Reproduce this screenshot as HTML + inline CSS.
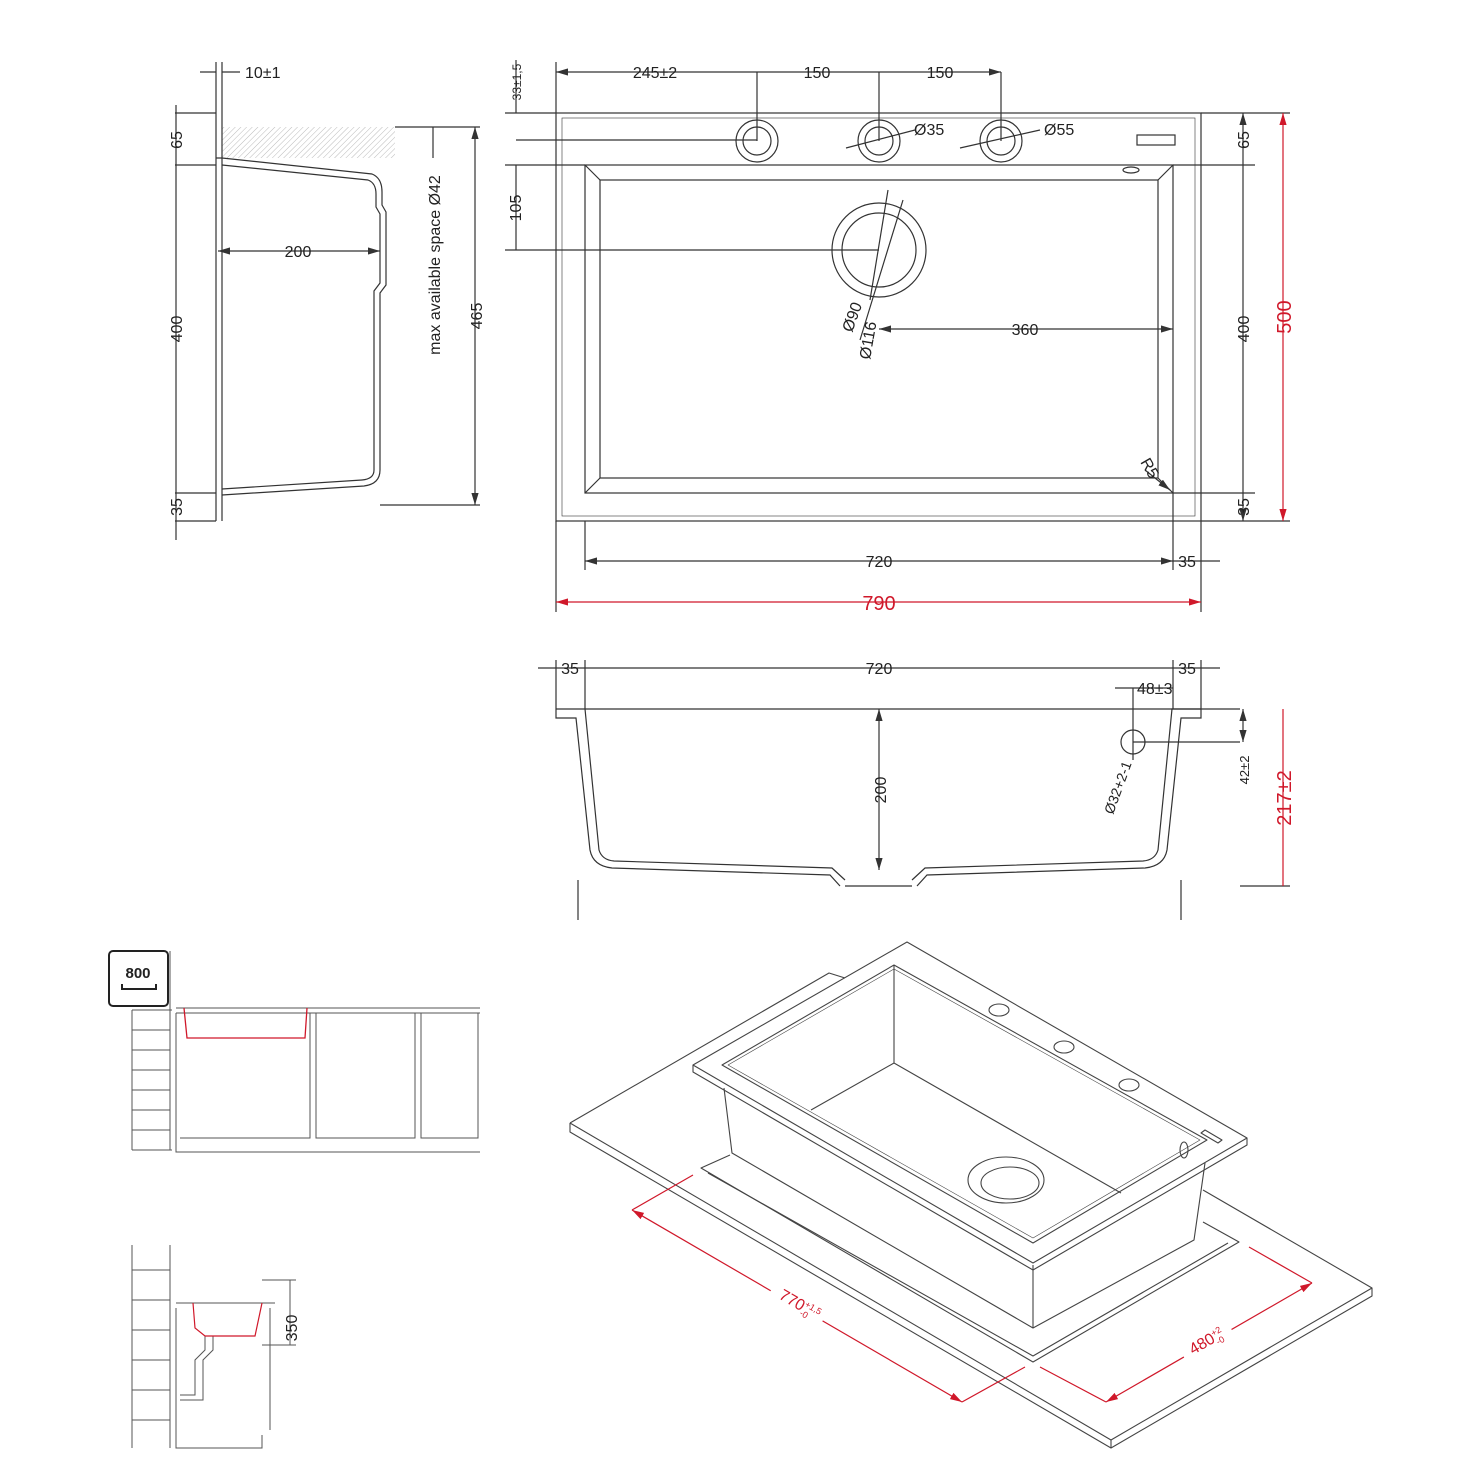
<!DOCTYPE html>
<html><head><meta charset="utf-8"><style>
html,body{margin:0;padding:0;background:#fff}
svg{display:block}
text{font-family:"Liberation Sans",sans-serif;font-size:16px;fill:#222}
.r{fill:#d0182a}
</style></head><body>
<svg width="1484" height="1484" viewBox="0 0 1484 1484" xmlns="http://www.w3.org/2000/svg">
<defs>
<pattern id="h" width="4" height="4" patternUnits="userSpaceOnUse" patternTransform="rotate(45)"><line x1="0" y1="0" x2="0" y2="4" stroke="#bbb" stroke-width="1"/></pattern>
<marker id="a" markerWidth="10" markerHeight="6" refX="10" refY="3" orient="auto-start-reverse"><path d="M0,0 L10,3 L0,6z" fill="#333"/></marker>
<marker id="ar" markerWidth="10" markerHeight="6" refX="10" refY="3" orient="auto-start-reverse"><path d="M0,0 L10,3 L0,6z" fill="#d0182a"/></marker>
</defs>
<g fill="none" stroke="#333" stroke-width="1.2">
<!-- TOP VIEW -->
<rect x="556" y="113" width="645" height="408"/>
<rect x="562" y="118" width="633" height="398" stroke-width="0.6"/>
<rect x="585" y="165" width="588" height="328"/>
<rect x="600" y="180" width="558" height="298"/>
<path d="M585,165 L600,180 M1173,165 L1158,180 M585,493 L600,478 M1173,493 L1158,478"/>
<circle cx="879" cy="250" r="47"/><circle cx="879" cy="250" r="37"/>
<circle cx="757" cy="141" r="21"/><circle cx="757" cy="141" r="14"/>
<circle cx="879" cy="141" r="21"/><circle cx="879" cy="141" r="14"/>
<circle cx="1001" cy="141" r="21"/><circle cx="1001" cy="141" r="14"/>
<rect x="1137" y="135" width="38" height="10"/>
<ellipse cx="1131" cy="170" rx="8" ry="3"/>
<path d="M556,72 H1001" marker-start="url(#a)" marker-end="url(#a)"/>
<path d="M757,72 V141 M879,72 V141 M1001,72 V141 M556,62 V113"/>
<path d="M516,72 V113 M505,113 H556 M505,165 H585 M516,165 V250 M505,250 H879 M516,72 V60" />
<path d="M516,140 H757"/>
<path d="M1201,113 H1290 M1173,165 H1255 M1173,493 H1255 M1201,521 H1290"/>
<path d="M1243,113 V521" marker-start="url(#a)" marker-end="url(#a)"/>
<path d="M585,521 V570 M1173,493 V570 M1201,521 V612 M556,521 V612"/>
<path d="M585,561 H1173" marker-start="url(#a)" marker-end="url(#a)"/>
<path d="M1173,561 H1220"/>
<path d="M879,329 H1173" marker-start="url(#a)" marker-end="url(#a)"/>
<path d="M903,200 L860,340 M888,190 L870,300"/>
<path d="M846,148 L915,130 M960,148 L1040,130"/>
<path d="M1145,470 L1170,490" marker-end="url(#a)"/>
</g>
<g fill="none" stroke="#d0182a" stroke-width="1.2">
<path d="M1283,113 V521" marker-start="url(#ar)" marker-end="url(#ar)"/>
<path d="M556,602 H1201" marker-start="url(#ar)" marker-end="url(#ar)"/>
</g>
<text x="655" y="78" text-anchor="middle">245±2</text>
<text x="817" y="78" text-anchor="middle">150</text>
<text x="940" y="78" text-anchor="middle">150</text>
<text transform="translate(521,82) rotate(-90)" text-anchor="middle" style="font-size:12px">33±1,5</text>
<text transform="translate(521,208) rotate(-90)" text-anchor="middle">105</text>
<text transform="translate(1249,140) rotate(-90)" text-anchor="middle">65</text>
<text transform="translate(1249,329) rotate(-90)" text-anchor="middle">400</text>
<text transform="translate(1249,507) rotate(-90)" text-anchor="middle">35</text>
<text class="r" transform="translate(1291,317) rotate(-90)" text-anchor="middle" style="font-size:20px">500</text>
<text x="879" y="567" text-anchor="middle">720</text>
<text x="1187" y="567" text-anchor="middle">35</text>
<text class="r" x="879" y="610" text-anchor="middle" style="font-size:20px">790</text>
<text x="1025" y="335" text-anchor="middle">360</text>
<text x="914" y="135">Ø35</text>
<text x="1044" y="135">Ø55</text>
<text transform="translate(852,333) rotate(-70)">Ø90</text>
<text transform="translate(870,360) rotate(-80)">Ø116</text>
<text transform="translate(1140,462) rotate(60)">R5</text>

<!-- LEFT SECTION -->
<rect x="222" y="127" width="173" height="31" fill="url(#h)" stroke="none"/>
<g fill="none" stroke="#333" stroke-width="1.2">
<path d="M216,113 V521 M222,113 V521"/>
<path d="M216,158 H222 L372,174 Q382,178 382,192 V205 L386,212 V285 L380,293 V470 Q380,484 364,486 L222,495"/>
<path d="M222,165 L368,180 Q376,183 376,194 V207 L380,214 V283 L374,291 V470 Q374,479 362,480 L222,489"/>
<path d="M200,72 H216 M222,72 H240 M216,62 V113 M222,62 V113"/>
<path d="M175,113 H216 M175,165 H216 M175,493 H216 M175,521 H216"/>
<path d="M176,105 V540"/>
<path d="M218,251 H380" marker-start="url(#a)" marker-end="url(#a)"/>
<path d="M395,127 H480 M380,505 H480"/>
<path d="M475,127 V505" marker-start="url(#a)" marker-end="url(#a)"/>
<path d="M433,127 V158"/>
</g>
<text x="245" y="78">10±1</text>
<text transform="translate(182,140) rotate(-90)" text-anchor="middle">65</text>
<text transform="translate(182,329) rotate(-90)" text-anchor="middle">400</text>
<text transform="translate(182,507) rotate(-90)" text-anchor="middle">35</text>
<text x="298" y="257" text-anchor="middle">200</text>
<text transform="translate(440,265) rotate(-90)" text-anchor="middle">max available space Ø42</text>
<text transform="translate(482,316) rotate(-90)" text-anchor="middle">465</text>

<!-- FRONT SECTION -->
<g fill="none" stroke="#333" stroke-width="1.2">
<path d="M556,709 V718 H576 L590,850 Q593,866 612,868 L830,875 L840,886 M556,709 H585 L599,850 Q602,860 614,861 L832,868 L845,880"/>
<path d="M1201,709 V718 H1181 L1167,850 Q1164,866 1145,868 L927,875 L917,886 M1201,709 H1172 L1158,850 Q1155,860 1143,861 L925,868 L912,880"/>
<path d="M578,880 V920 M1181,880 V920 M585,709 H1240"/>
<path d="M538,668 H1220 M556,660 V709 M585,660 V709 M1173,660 V709 M1201,660 V709"/>
<path d="M879,709 V870" marker-start="url(#a)" marker-end="url(#a)"/>
<path d="M1115,688 H1173 M1133,688 V760"/>
<circle cx="1133" cy="742" r="12"/>
<path d="M1133,742 H1240"/>
<path d="M1243,709 V742" marker-start="url(#a)" marker-end="url(#a)"/>
<path d="M1240,886 H1290 M845,886 H912"/>
</g>
<path d="M1283,709 V886" fill="none" stroke="#d0182a" stroke-width="1.2"/>
<text x="570" y="674" text-anchor="middle">35</text>
<text x="879" y="674" text-anchor="middle">720</text>
<text x="1187" y="674" text-anchor="middle">35</text>
<text x="1137" y="694">48±3</text>
<text transform="translate(886,790) rotate(-90)" text-anchor="middle">200</text>
<text transform="translate(1113,815) rotate(-70)" style="font-size:14px">Ø32+2-1</text>
<text transform="translate(1249,770) rotate(-90)" text-anchor="middle" style="font-size:13px">42±2</text>
<text class="r" transform="translate(1291,798) rotate(-90)" text-anchor="middle" style="font-size:20px">217±2</text>

<!-- CABINET TOP -->
<g fill="none" stroke="#555" stroke-width="1">
<rect x="109" y="951" width="59" height="55" rx="4" stroke="#222" stroke-width="2"/>
<path d="M122,984 V989 H156 V984" stroke="#222" stroke-width="2"/>
<path d="M132,1010 H172 M132,1150 H172 M170,951 V1150 M132,1010 V1150"/>
<path d="M132,1030 H170 M132,1050 H170 M132,1070 H170 M132,1090 H170 M132,1110 H170 M132,1130 H170"/>
<path d="M176,1008 H480 M176,1013 H480 M176,1013 V1152 H480 M180,1138 H310 V1013 M316,1013 V1138 H415 V1013 M421,1013 V1138 H478 V1013"/>
</g>
<path d="M184,1008 L187,1038 L305,1038 L307,1008" fill="none" stroke="#d0182a" stroke-width="1.3"/>
<text x="138" y="978" text-anchor="middle" style="font-size:15px;font-weight:bold">800</text>
<!-- CABINET BOTTOM -->
<g fill="none" stroke="#555" stroke-width="1">
<path d="M132,1245 V1448 M170,1245 V1448 M132,1270 H170 M132,1300 H170 M132,1330 H170 M132,1360 H170 M132,1390 H170 M132,1420 H170"/>
<path d="M176,1303 H275 M176,1308 V1448 H262 V1435 M270,1308 V1430"/>
<path d="M205,1336 V1350 L195,1360 V1395 H180 M213,1336 V1350 L203,1360 V1400 H180"/>
<path d="M262,1280 H296 M262,1345 H296 M290,1280 V1345"/>
</g>
<path d="M193,1303 L195,1328 L205,1336 L255,1336 L262,1303" fill="none" stroke="#d0182a" stroke-width="1.2"/>
<text transform="translate(297,1328) rotate(-90)" text-anchor="middle">350</text>

<!-- ISOMETRIC -->
<g fill="none" stroke="#444" stroke-width="1.1" stroke-linejoin="round">
<!-- countertop -->
<path d="M845,978 L829,973 L570,1123 M570,1123 V1132 L1111,1448 L1372,1296 V1288 L1111,1440 L570,1123"/>
<path d="M1372,1288 L1203,1190"/>
<path d="M1111,1440 V1448"/>
<!-- cutout -->
<path d="M730,1155 L701,1168 L1033,1362 L1239,1242 L1203,1222"/>
<path d="M708,1173 L1033,1356 L1228,1243"/>
<!-- sink body -->
<path d="M724,1088 L732,1153 L1033,1328 L1194,1240 L1205,1163"/>
<path d="M1033,1265 V1328"/>
<!-- rim -->
<path d="M693,1065 L907,942 L1247,1138 L1033,1263 Z"/>
<path d="M693,1065 V1072 L1033,1270 L1247,1145 V1138"/>
<!-- opening -->
<path d="M722,1065 L894,965 L1207,1140 L1033,1243 Z"/>
<path d="M728,1065 L894,969 L1200,1140 L1033,1238 Z" stroke-width="0.6"/>
<!-- interior -->
<path d="M894,965 V1063 L811,1110 M894,1063 L1121,1193"/>
<ellipse cx="1006" cy="1180" rx="38" ry="23"/><ellipse cx="1010" cy="1183" rx="29" ry="16"/>
<ellipse cx="999" cy="1010" rx="10" ry="6"/><ellipse cx="1064" cy="1047" rx="10" ry="6"/><ellipse cx="1129" cy="1085" rx="10" ry="6"/>
<path d="M1205,1130 L1222,1140 L1218,1143 L1201,1133 Z"/>
<ellipse cx="1184" cy="1150" rx="4" ry="8"/>
</g>
<g fill="none" stroke="#d0182a" stroke-width="1.2">
<path d="M632,1210 L962,1402" marker-start="url(#ar)" marker-end="url(#ar)"/>
<path d="M632,1210 L693,1175 M962,1402 L1025,1367"/>
<path d="M1106,1402 L1312,1283" marker-start="url(#ar)" marker-end="url(#ar)"/>
<path d="M1106,1402 L1040,1367 M1312,1283 L1249,1247"/>
</g>
<rect x="770" y="1285" width="60" height="30" fill="#fff" transform="rotate(30 800 1300)"/>
<rect x="1180" y="1330" width="55" height="26" fill="#fff" transform="rotate(-30 1207 1343)"/>
<text class="r" transform="translate(778,1298) rotate(30)" style="font-size:16px">770<tspan dy="-6" style="font-size:9px">+1,5</tspan><tspan dx="-18" dy="10" style="font-size:9px">-0</tspan></text>
<text class="r" transform="translate(1193,1355) rotate(-30)" style="font-size:16px">480<tspan dy="-6" style="font-size:9px">+2</tspan><tspan dx="-10" dy="10" style="font-size:9px">-0</tspan></text>
</svg>
</body></html>
